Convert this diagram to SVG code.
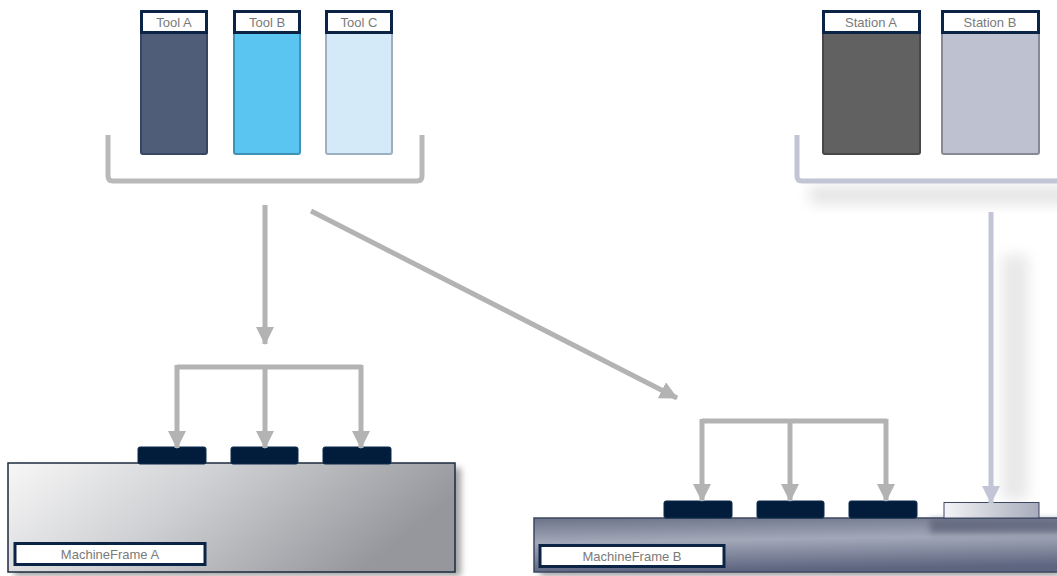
<svg xmlns="http://www.w3.org/2000/svg" width="1057" height="576" viewBox="0 0 1057 576">
<defs>
<style>
.lbl{fill:#fff;stroke:#0b2344;stroke-width:3}
.txt{font-family:"Liberation Sans",Arial,sans-serif;font-size:13px;fill:#7a7a7a;text-anchor:middle}
.conn{fill:none;stroke:#b3b3b3;stroke-width:5}
.connS{fill:none;stroke:#c1c5d6;stroke-width:5}
.pad{fill:#021d3c;stroke:#0d2a4a;stroke-width:1}
</style>
<marker id="ah" markerUnits="userSpaceOnUse" markerWidth="18" markerHeight="18" viewBox="0 0 18 18" refX="17" refY="9" orient="auto"><path d="M0,0 L18,9 L0,18 Z" fill="#b3b3b3"/></marker>
<marker id="ahS" markerUnits="userSpaceOnUse" markerWidth="18" markerHeight="18" viewBox="0 0 18 18" refX="17" refY="9" orient="auto"><path d="M0,0 L18,9 L0,18 Z" fill="#c1c5d6"/></marker>
<linearGradient id="gA" x1="0" y1="0" x2="1" y2="0.3"><stop offset="0" stop-color="#f7f7f7"/><stop offset="0.45" stop-color="#cfd0d3"/><stop offset="1" stop-color="#96979c"/></linearGradient>
<linearGradient id="gB" x1="0" y1="0" x2="0.15" y2="1"><stop offset="0" stop-color="#6c7389"/><stop offset="0.45" stop-color="#a3a8b8"/><stop offset="1" stop-color="#5d6580"/></linearGradient>
<linearGradient id="gW" x1="0" y1="0" x2="1" y2="0"><stop offset="0" stop-color="#f4f4f6"/><stop offset="1" stop-color="#a7abbb"/></linearGradient>
<filter id="blur" x="-50%" y="-50%" width="200%" height="200%"><feGaussianBlur stdDeviation="7"/></filter>
<filter id="blur2" x="-50%" y="-50%" width="200%" height="200%"><feGaussianBlur stdDeviation="3"/></filter>
</defs>

<g id="shadows">
<rect x="810" y="186" width="260" height="18" fill="#e4e4e4" filter="url(#blur)"/>
<rect x="1002" y="255" width="26" height="245" fill="#e8e8e8" filter="url(#blur)"/>
<rect x="14" y="468" width="447" height="108" fill="#a0a0a0" filter="url(#blur2)"/>
<rect x="540" y="523" width="520" height="53" fill="#a0a0a0" filter="url(#blur2)"/>
</g>

<g id="tool-a"><rect x="141" y="11" width="66" height="143" rx="2" fill="#505d78" stroke="#384563" stroke-width="2"/><rect class="lbl" x="141.5" y="11.5" width="65" height="21"/><text class="txt" x="174" y="27">Tool A</text></g>
<g id="tool-b"><rect x="234" y="11" width="66" height="143" rx="2" fill="#5bc5f2" stroke="#3d92b6" stroke-width="2"/><rect class="lbl" x="234.5" y="11.5" width="65" height="21"/><text class="txt" x="267" y="27">Tool B</text></g>
<g id="tool-c"><rect x="326" y="11" width="66" height="143" rx="2" fill="#d4eaf9" stroke="#9eb0bf" stroke-width="2"/><rect class="lbl" x="326.5" y="11.5" width="65" height="21"/><text class="txt" x="359" y="27">Tool C</text></g>
<g id="tool-bracket"><path d="M108,135 V176 Q108,181 113,181 H417 Q422,181 422,176 V135" fill="none" stroke="#b9b9b9" stroke-width="5"/></g>

<g id="station-a"><rect x="823" y="11" width="97" height="143" rx="2" fill="#616161" stroke="#474747" stroke-width="2"/><rect class="lbl" x="823.5" y="11.5" width="96" height="21"/><text class="txt" x="871" y="27">Station A</text></g>
<g id="station-b"><rect x="942" y="11" width="97" height="143" rx="2" fill="#bec2d0" stroke="#878a96" stroke-width="2"/><rect class="lbl" x="942.5" y="11.5" width="96" height="21"/><text class="txt" x="990" y="27">Station B</text></g>
<g id="station-bracket"><path d="M797,135 V176 Q797,181 802,181 H1060" fill="none" stroke="#c1c5d6" stroke-width="5"/></g>

<g id="machineframe-a">
<rect x="8" y="463" width="447" height="109" fill="url(#gA)" stroke="#1c2b3e" stroke-width="1.5"/>
<rect class="lbl" x="15" y="543.5" width="190" height="21"/>
<text class="txt" x="110" y="559">MachineFrame A</text>
<rect class="pad" x="138" y="447" width="68" height="17" rx="2"/>
<rect class="pad" x="231" y="447" width="67" height="17" rx="2"/>
<rect class="pad" x="323" y="447" width="68" height="17" rx="2"/>
</g>

<g id="machineframe-b">
<rect x="534" y="518" width="530" height="54" fill="url(#gB)" stroke="#3d4760" stroke-width="1.5"/>
<rect x="930" y="519" width="140" height="14" fill="#4a5068" opacity="0.55" filter="url(#blur2)"/>
<rect class="lbl" x="540" y="545.5" width="184" height="21"/>
<text class="txt" x="632" y="561">MachineFrame B</text>
<rect class="pad" x="664" y="501" width="68" height="17" rx="2"/>
<rect class="pad" x="757" y="501" width="67" height="17" rx="2"/>
<rect class="pad" x="849" y="501" width="68" height="17" rx="2"/>
<rect x="944" y="502.5" width="95" height="15.5" fill="url(#gW)" stroke="#3d4760" stroke-width="1"/>
</g>

<g id="connectors">
<line class="conn" x1="265" y1="205" x2="265" y2="344" marker-end="url(#ah)"/>
<line class="conn" x1="311" y1="211" x2="677" y2="398" marker-end="url(#ah)"/>
<path class="conn" d="M177,367 H362"/>
<line class="conn" x1="177" y1="365" x2="177" y2="448" marker-end="url(#ah)"/>
<line class="conn" x1="265" y1="365" x2="265" y2="448" marker-end="url(#ah)"/>
<line class="conn" x1="361" y1="365" x2="361" y2="448" marker-end="url(#ah)"/>
<path class="conn" d="M702,421 H887"/>
<line class="conn" x1="702" y1="419" x2="702" y2="501" marker-end="url(#ah)"/>
<line class="conn" x1="790" y1="419" x2="790" y2="501" marker-end="url(#ah)"/>
<line class="conn" x1="886" y1="419" x2="886" y2="501" marker-end="url(#ah)"/>
<line class="connS" x1="991" y1="212" x2="991" y2="503" marker-end="url(#ahS)"/>
</g>
</svg>
